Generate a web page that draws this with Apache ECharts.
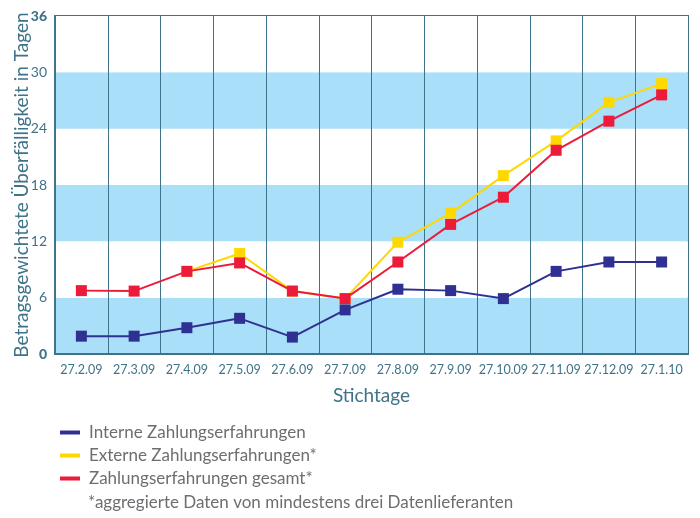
<!DOCTYPE html>
<html>
<head>
<meta charset="utf-8">
<script src="https://cdn.jsdelivr.net/npm/echarts@6/dist/echarts.min.js"></script>
<style>
  html, body { margin: 0; padding: 0; background: #fff; }
  #chart { width: 700px; height: 518px; }
</style>
</head>
<body>
<div id="chart"></div>
<script>
const stichtage = ["27.2.09", "27.3.09", "27.4.09", "27.5.09", "27.6.09", "27.7.09",
  "27.8.09", "27.9.09", "27.10.09", "27.11.09", "27.12.09", "27.1.10"]
const intern = [1.9, 1.9, 2.8, 3.8, 1.8, 4.7, 6.9, 6.75, 5.9, 8.8, 9.8, 9.8]
const extern = [null, null, 8.8, 10.7, 6.7, 5.9, 11.9, 15.0, 19.0, 22.7, 26.8, 28.8]
const gesamt = [6.75, 6.7, 8.8, 9.7, 6.7, 5.9, 9.8, 13.8, 16.7, 21.7, 24.8, 27.6]
const serienNamen = ["Interne Zahlungserfahrungen", "Externe Zahlungserfahrungen*", "Zahlungserfahrungen gesamt*"]
const fussnote = "*aggregierte Daten von mindestens drei Datenlieferanten"

const chart = echarts.init(document.getElementById("chart"))
const achsenFarbe = "#3f7389"
const schrift = "Lato"
const farben = ["#2e3192", "#ffd800", "#ed1b3a"]

const linie = (name, data, color, z) => ({
  name,
  type: "line",
  data,
  z,
  symbol: "rect",
  symbolSize: 11,
  lineStyle: { color, width: 2 },
  itemStyle: { color },
  connectNulls: false
})

const options = {
  animation: false,
  textStyle: { fontFamily: schrift },
  grid: {
    left: 55,
    right: 12,
    top: 16,
    bottom: 164,
    outerBoundsMode: "none",
    show: true,
    borderColor: achsenFarbe,
    borderWidth: 2,
    backgroundColor: "transparent"
  },
  legend: {
    orient: "vertical",
    left: 55,
    top: 419,
    itemWidth: 20,
    itemHeight: 4,
    itemGap: 6,
    icon: "rect",
    data: serienNamen,
    textStyle: { fontSize: 17, color: "#6d6e71", fontFamily: schrift, padding: [0, 0, 0, 4] }
  },
  graphic: [{
    type: "text",
    left: 88,
    top: 494,
    style: { text: fussnote, fontSize: 17, fill: "#6d6e71", fontFamily: schrift }
  }],
  xAxis: {
    type: "category",
    data: stichtage,
    boundaryGap: true,
    name: "Stichtage",
    nameLocation: "middle",
    nameGap: 32,
    nameMoveOverlap: false,
    nameTextStyle: { fontSize: 19, color: achsenFarbe, fontFamily: schrift },
    axisLine: { lineStyle: { color: achsenFarbe, width: 2 } },
    axisTick: { show: false },
    axisLabel: { color: achsenFarbe, fontSize: 12.5, margin: 9, interval: 0 },
    splitLine: { show: true, interval: 0, lineStyle: { color: achsenFarbe, width: 1 } }
  },
  yAxis: {
    type: "value",
    min: 0,
    max: 36,
    interval: 6,
    name: "Betragsgewichtete Überfälligkeit in Tagen",
    nameLocation: "middle",
    nameGap: 24,
    nameMoveOverlap: false,
    nameTextStyle: { fontSize: 19, color: achsenFarbe, fontFamily: schrift },
    axisLine: { show: true, lineStyle: { color: achsenFarbe, width: 2 } },
    axisTick: { show: false },
    axisLabel: {
      color: achsenFarbe,
      fontSize: 14,
      margin: 8,
      formatter: v => (v === 0 || v === 36) ? "{b|" + v + "}" : "" + v,
      rich: { b: { fontWeight: 900, fontSize: 14, color: achsenFarbe, fontFamily: schrift } }
    },
    splitLine: { show: false },
    splitArea: { show: true, areaStyle: { color: ["#a9dff8", "#ffffff"] } }
  },
  series: [
    linie(serienNamen[0], intern, farben[0], 3),
    linie(serienNamen[1], extern, farben[1], 4),
    linie(serienNamen[2], gesamt, farben[2], 5)
  ]
}
chart.setOption(options)
window.onresize = function () {
  chart.resize()
}
</script>
</body>
</html>
